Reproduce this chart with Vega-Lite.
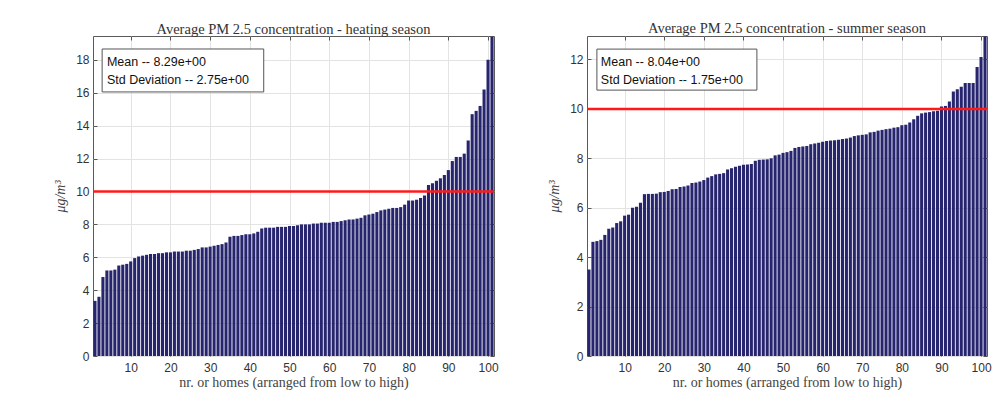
{
  "$schema": "https://vega.github.io/schema/vega-lite/v6.json",
  "background": "white",
  "padding": {"left": 53, "top": 20, "right": 0, "bottom": 0},
  "datasets": {
    "heating": [
      {"home":1,"pm":3.35},{"home":2,"pm":3.6},{"home":3,"pm":4.8},{"home":4,"pm":5.2},{"home":5,"pm":5.2},{"home":6,"pm":5.25},{"home":7,"pm":5.5},{"home":8,"pm":5.55},{"home":9,"pm":5.6},{"home":10,"pm":5.75},
      {"home":11,"pm":5.95},{"home":12,"pm":6.05},{"home":13,"pm":6.1},{"home":14,"pm":6.15},{"home":15,"pm":6.2},{"home":16,"pm":6.2},{"home":17,"pm":6.25},{"home":18,"pm":6.25},{"home":19,"pm":6.3},{"home":20,"pm":6.3},
      {"home":21,"pm":6.35},{"home":22,"pm":6.35},{"home":23,"pm":6.35},{"home":24,"pm":6.4},{"home":25,"pm":6.4},{"home":26,"pm":6.45},{"home":27,"pm":6.5},{"home":28,"pm":6.6},{"home":29,"pm":6.6},{"home":30,"pm":6.65},
      {"home":31,"pm":6.7},{"home":32,"pm":6.75},{"home":33,"pm":6.8},{"home":34,"pm":6.9},{"home":35,"pm":7.25},{"home":36,"pm":7.3},{"home":37,"pm":7.3},{"home":38,"pm":7.35},{"home":39,"pm":7.4},{"home":40,"pm":7.4},
      {"home":41,"pm":7.45},{"home":42,"pm":7.55},{"home":43,"pm":7.75},{"home":44,"pm":7.8},{"home":45,"pm":7.8},{"home":46,"pm":7.8},{"home":47,"pm":7.85},{"home":48,"pm":7.85},{"home":49,"pm":7.85},{"home":50,"pm":7.9},
      {"home":51,"pm":7.9},{"home":52,"pm":7.95},{"home":53,"pm":8.0},{"home":54,"pm":8.0},{"home":55,"pm":8.0},{"home":56,"pm":8.05},{"home":57,"pm":8.05},{"home":58,"pm":8.1},{"home":59,"pm":8.1},{"home":60,"pm":8.1},
      {"home":61,"pm":8.15},{"home":62,"pm":8.15},{"home":63,"pm":8.2},{"home":64,"pm":8.25},{"home":65,"pm":8.3},{"home":66,"pm":8.3},{"home":67,"pm":8.35},{"home":68,"pm":8.4},{"home":69,"pm":8.55},{"home":70,"pm":8.6},
      {"home":71,"pm":8.65},{"home":72,"pm":8.75},{"home":73,"pm":8.85},{"home":74,"pm":8.9},{"home":75,"pm":8.95},{"home":76,"pm":9.0},{"home":77,"pm":9.0},{"home":78,"pm":9.05},{"home":79,"pm":9.2},{"home":80,"pm":9.45},
      {"home":81,"pm":9.45},{"home":82,"pm":9.5},{"home":83,"pm":9.6},{"home":84,"pm":9.75},{"home":85,"pm":10.4},{"home":86,"pm":10.5},{"home":87,"pm":10.65},{"home":88,"pm":10.8},{"home":89,"pm":11.0},{"home":90,"pm":11.3},
      {"home":91,"pm":11.85},{"home":92,"pm":12.1},{"home":93,"pm":12.1},{"home":94,"pm":12.3},{"home":95,"pm":13.1},{"home":96,"pm":14.7},{"home":97,"pm":14.9},{"home":98,"pm":15.2},{"home":99,"pm":16.2},{"home":100,"pm":18.0},
      {"home":101,"pm":19.4}
    ],
    "summer": [
      {"home":1,"pm":3.5},{"home":2,"pm":4.62},{"home":3,"pm":4.65},{"home":4,"pm":4.7},{"home":5,"pm":4.9},{"home":6,"pm":5.15},{"home":7,"pm":5.2},{"home":8,"pm":5.38},{"home":9,"pm":5.45},{"home":10,"pm":5.68},
      {"home":11,"pm":5.72},{"home":12,"pm":6.0},{"home":13,"pm":6.04},{"home":14,"pm":6.2},{"home":15,"pm":6.55},{"home":16,"pm":6.56},{"home":17,"pm":6.56},{"home":18,"pm":6.57},{"home":19,"pm":6.63},{"home":20,"pm":6.64},
      {"home":21,"pm":6.68},{"home":22,"pm":6.75},{"home":23,"pm":6.76},{"home":24,"pm":6.84},{"home":25,"pm":6.86},{"home":26,"pm":6.9},{"home":27,"pm":7.0},{"home":28,"pm":7.02},{"home":29,"pm":7.06},{"home":30,"pm":7.12},
      {"home":31,"pm":7.22},{"home":32,"pm":7.28},{"home":33,"pm":7.35},{"home":34,"pm":7.37},{"home":35,"pm":7.4},{"home":36,"pm":7.55},{"home":37,"pm":7.6},{"home":38,"pm":7.66},{"home":39,"pm":7.7},{"home":40,"pm":7.74},
      {"home":41,"pm":7.75},{"home":42,"pm":7.77},{"home":43,"pm":7.9},{"home":44,"pm":7.94},{"home":45,"pm":7.95},{"home":46,"pm":7.96},{"home":47,"pm":8.0},{"home":48,"pm":8.12},{"home":49,"pm":8.15},{"home":50,"pm":8.22},
      {"home":51,"pm":8.25},{"home":52,"pm":8.3},{"home":53,"pm":8.42},{"home":54,"pm":8.46},{"home":55,"pm":8.48},{"home":56,"pm":8.5},{"home":57,"pm":8.57},{"home":58,"pm":8.6},{"home":59,"pm":8.63},{"home":60,"pm":8.67},
      {"home":61,"pm":8.7},{"home":62,"pm":8.72},{"home":63,"pm":8.73},{"home":64,"pm":8.75},{"home":65,"pm":8.78},{"home":66,"pm":8.8},{"home":67,"pm":8.84},{"home":68,"pm":8.9},{"home":69,"pm":8.93},{"home":70,"pm":8.95},
      {"home":71,"pm":8.97},{"home":72,"pm":9.05},{"home":73,"pm":9.07},{"home":74,"pm":9.12},{"home":75,"pm":9.15},{"home":76,"pm":9.18},{"home":77,"pm":9.2},{"home":78,"pm":9.24},{"home":79,"pm":9.26},{"home":80,"pm":9.34},
      {"home":81,"pm":9.36},{"home":82,"pm":9.45},{"home":83,"pm":9.58},{"home":84,"pm":9.72},{"home":85,"pm":9.82},{"home":86,"pm":9.85},{"home":87,"pm":9.87},{"home":88,"pm":9.9},{"home":89,"pm":9.93},{"home":90,"pm":10.1},
      {"home":91,"pm":10.12},{"home":92,"pm":10.3},{"home":93,"pm":10.7},{"home":94,"pm":10.8},{"home":95,"pm":10.9},{"home":96,"pm":11.05},{"home":97,"pm":11.05},{"home":98,"pm":11.05},{"home":99,"pm":11.7},{"home":100,"pm":12.1},
      {"home":101,"pm":12.93}
    ]
  },
  "config": {
    "view": {"stroke": "#5a5a5a", "strokeWidth": 1},
    "axis": {
      "labelFont": "Liberation Sans", "labelFontSize": 12, "labelColor": "#333333", "labelOverlap": false,
      "titleFont": "Liberation Serif", "titleFontSize": 14, "titleFontWeight": "normal", "titleColor": "#444444",
      "gridColor": "#e3e3e3", "domain": false, "tickColor": "#555555", "tickSize": -4
    },
    "axisX": {"labelPadding": 10},
    "axisY": {"labelPadding": 8},
    "title": {"font": "Liberation Serif", "fontSize": 14.5, "fontWeight": "normal", "color": "#333333", "offset": -3, "baseline": "alphabetic"},
    "concat": {"spacing": 48}
  },
  "hconcat": [
    {
      "width": 401, "height": 320,
      "title": "Average PM 2.5 concentration - heating season",
      "resolve": {"axis": {"x": "independent", "y": "independent"}},
      "layer": [
        {
          "data": {"name": "heating"},
          "mark": {"type": "bar", "color": "#28256f", "width": 3.1},
          "encoding": {
            "x": {"field": "home", "type": "quantitative", "scale": {"domain": [0.5, 101.5], "nice": false, "zero": false, "padding": 0},
                  "axis": {"values": [10,20,30,40,50,60,70,80,90,100], "title": "nr. or homes (arranged from low to high)", "titlePadding": 2}},
            "y": {"field": "pm", "type": "quantitative", "scale": {"domain": [0, 19.45], "nice": false, "zero": false},
                  "axis": {"values": [0,2,4,6,8,10,12,14,16,18], "title": "μg/m³", "titleFontStyle": "italic", "titlePadding": 8}}
          }
        },
        {
          "data": {"name": "heating"},
          "mark": {"type": "point", "opacity": 0},
          "encoding": {
            "x": {"field": "home", "type": "quantitative", "scale": {"domain": [0.5, 101.5], "nice": false, "zero": false, "padding": 0}, "axis": {"orient": "top", "values": [10,20,30,40,50,60,70,80,90,100], "labels": false, "grid": false, "title": null}},
            "y": {"field": "pm", "type": "quantitative", "scale": {"domain": [0, 19.45], "nice": false, "zero": false}, "axis": {"orient": "right", "values": [0,2,4,6,8,10,12,14,16,18], "labels": false, "grid": false, "title": null}}
          }
        },
        {
          "data": {"values": [{"limit": 10}]},
          "mark": {"type": "rule", "color": "#ff1a1a", "strokeWidth": 2.5},
          "encoding": {"y": {"field": "limit", "type": "quantitative", "scale": {"domain": [0, 19.45], "nice": false, "zero": false}, "axis": null}}
        },
        {
          "data": {"values": [{"mean": "8.29e+00", "sd": "2.75e+00"}]},
          "mark": {"type": "rect", "fill": "white", "stroke": "#555555", "strokeWidth": 1},
          "encoding": {"x": {"datum": 2.8, "axis": null}, "x2": {"datum": 43.5}, "y": {"datum": 18.66, "axis": null}, "y2": {"datum": 16.05}}
        },
        {
          "data": {"values": [{"mean": "8.29e+00", "sd": "2.75e+00"}]},
          "mark": {"type": "text", "text": ["Mean -- 8.29e+00", "Std Deviation -- 2.75e+00"], "align": "left", "baseline": "middle", "font": "Liberation Sans", "fontSize": 12.5, "lineHeight": 18, "color": "#111111"},
          "encoding": {"x": {"datum": 4.0, "axis": null}, "y": {"datum": 17.87, "axis": null}}
        }
      ]
    },
    {
      "width": 400, "height": 320,
      "title": "Average PM 2.5 concentration - summer season",
      "resolve": {"axis": {"x": "independent", "y": "independent"}},
      "layer": [
        {
          "data": {"name": "summer"},
          "mark": {"type": "bar", "color": "#28256f", "width": 3.1},
          "encoding": {
            "x": {"field": "home", "type": "quantitative", "scale": {"domain": [0.5, 101.5], "nice": false, "zero": false, "padding": 0},
                  "axis": {"values": [10,20,30,40,50,60,70,80,90,100], "title": "nr. or homes (arranged from low to high)", "titlePadding": 2}},
            "y": {"field": "pm", "type": "quantitative", "scale": {"domain": [0, 12.95], "nice": false, "zero": false},
                  "axis": {"values": [0,2,4,6,8,10,12], "title": "μg/m³", "titleFontStyle": "italic", "titlePadding": 8}}
          }
        },
        {
          "data": {"name": "summer"},
          "mark": {"type": "point", "opacity": 0},
          "encoding": {
            "x": {"field": "home", "type": "quantitative", "scale": {"domain": [0.5, 101.5], "nice": false, "zero": false, "padding": 0}, "axis": {"orient": "top", "values": [10,20,30,40,50,60,70,80,90,100], "labels": false, "grid": false, "title": null}},
            "y": {"field": "pm", "type": "quantitative", "scale": {"domain": [0, 12.95], "nice": false, "zero": false}, "axis": {"orient": "right", "values": [0,2,4,6,8,10,12], "labels": false, "grid": false, "title": null}}
          }
        },
        {
          "data": {"values": [{"limit": 10}]},
          "mark": {"type": "rule", "color": "#ff1a1a", "strokeWidth": 2.5},
          "encoding": {"y": {"field": "limit", "type": "quantitative", "scale": {"domain": [0, 12.95], "nice": false, "zero": false}, "axis": null}}
        },
        {
          "data": {"values": [{"mean": "8.04e+00", "sd": "1.75e+00"}]},
          "mark": {"type": "rect", "fill": "white", "stroke": "#555555", "strokeWidth": 1},
          "encoding": {"x": {"datum": 3.0, "axis": null}, "x2": {"datum": 43.4}, "y": {"datum": 12.42, "axis": null}, "y2": {"datum": 10.76}}
        },
        {
          "data": {"values": [{"mean": "8.04e+00", "sd": "1.75e+00"}]},
          "mark": {"type": "text", "text": ["Mean -- 8.04e+00", "Std Deviation -- 1.75e+00"], "align": "left", "baseline": "middle", "font": "Liberation Sans", "fontSize": 12.5, "lineHeight": 18, "color": "#111111"},
          "encoding": {"x": {"datum": 4.0, "axis": null}, "y": {"datum": 11.9, "axis": null}}
        }
      ]
    }
  ]
}
